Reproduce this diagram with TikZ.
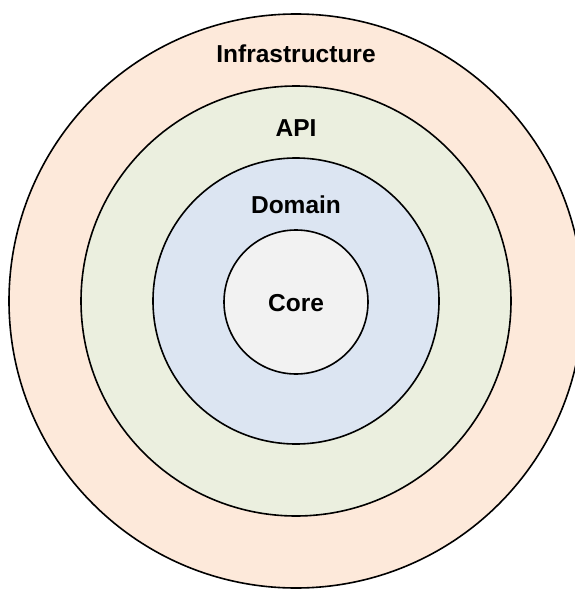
\documentclass[tikz,border=0pt]{standalone}
\usepackage{fontspec}
\setmainfont{Liberation Sans}
\definecolor{infra}{HTML}{FDE9DA}
\definecolor{apic}{HTML}{EBEFDF}
\definecolor{domc}{HTML}{DCE5F2}
\definecolor{corec}{HTML}{F2F2F2}
\begin{document}
\begin{tikzpicture}[x=1pt,y=-1pt,
  ring/.style={circle,draw=black,line width=1.6pt,inner sep=0pt},
  lbl/.style={font=\fontsize{24.5}{28}\selectfont\bfseries,text=black}]
\useasboundingbox (0,0) rectangle (575,589);
\begin{scope}
\clip (0,0) rectangle (575,589);
\node[ring,fill=infra,minimum size=574pt] (infra) at (296,301) {};
\node[ring,fill=apic,minimum size=430pt] (api) at (296,301) {};
\node[ring,fill=domc,minimum size=286pt] (domain) at (296,301) {};
\node[ring,fill=corec,minimum size=144pt] (core) at (296,302) {};
\end{scope}
\node[lbl] (tinfra) at (296,54) {Infrastructure};
\node[lbl] (tapi) at (296,128) {API};
\node[lbl] (tdom) at (296,205) {Domain};
\node[lbl] (tcore) at (296,303) {Core};
\end{tikzpicture}
\end{document}
